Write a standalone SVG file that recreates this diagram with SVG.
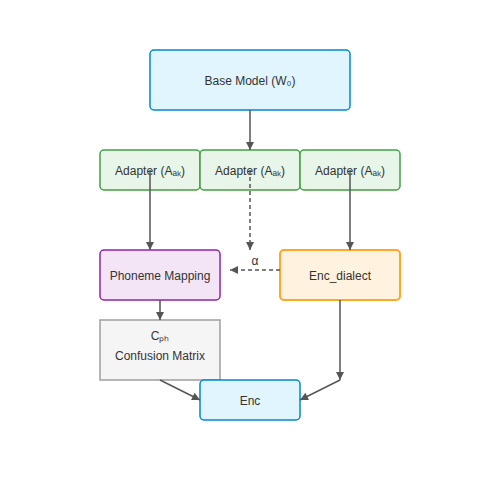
<svg xmlns="http://www.w3.org/2000/svg" width="500" height="500" viewBox="0 0 500 500">
<style>
text{font-family:"Liberation Sans",Arial,sans-serif;font-size:12px;fill:#333;text-anchor:middle;dominant-baseline:central}
.blue{fill:#e1f5fe;stroke:#0288d1;stroke-width:1.5}
.green{fill:#e8f5e9;stroke:#43a047;stroke-width:1.5}
.purple{fill:#f3e5f5;stroke:#8e24aa;stroke-width:1.5}
.orange{fill:#fff3e0;stroke:#ffa726;stroke-width:2}
.gray{fill:#f5f5f5;stroke:#9e9e9e;stroke-width:1.5}
.c{fill:none;stroke:#555;stroke-width:1.5}
.d{stroke-dasharray:4,3}
</style>
<defs>
<marker id="ah" markerWidth="10" markerHeight="10" refX="9" refY="5" orient="auto" markerUnits="userSpaceOnUse">
<path d="M1,1 L9,5 L1,9 Z" fill="#555"/>
</marker>
</defs>
<rect width="500" height="500" fill="#fff"/>
<g id="base"><rect class="blue" x="150" y="50" width="200" height="60" rx="4"/><text x="250" y="81">Base Model (W₀)</text></g>
<g id="adapter1"><rect class="green" x="100" y="150" width="100" height="40" rx="4"/><text x="150" y="171">Adapter (Aₐₖ)</text></g>
<g id="adapter2"><rect class="green" x="200" y="150" width="100" height="40" rx="4"/><text x="250" y="171">Adapter (Aₐₖ)</text></g>
<g id="adapter3"><rect class="green" x="300" y="150" width="100" height="40" rx="4"/><text x="350" y="171">Adapter (Aₐₖ)</text></g>
<g id="phoneme"><rect class="purple" x="100" y="250" width="120" height="50" rx="4"/><text x="160" y="276">Phoneme Mapping</text></g>
<g id="encdialect"><rect class="orange" x="280" y="250" width="120" height="50" rx="4"/><text x="340" y="276">Enc_dialect</text></g>
<g id="confusion"><rect class="gray" x="100" y="320" width="120" height="60"/><text x="160" y="336">Cₚₕ</text><text x="160" y="356">Confusion Matrix</text></g>
<g id="enc"><rect class="blue" x="200" y="380" width="100" height="40" rx="4"/><text x="250" y="401">Enc</text></g>
<g id="connectors">
<path class="c" d="M250,110 L250,150" marker-end="url(#ah)"/>
<path class="c" d="M150,170 L150,250" marker-end="url(#ah)"/>
<path class="c d" d="M250,170 L250,250" marker-end="url(#ah)"/>
<path class="c" d="M350,170 L350,250" marker-end="url(#ah)"/>
<path class="c d" d="M280,270 L230,270" marker-end="url(#ah)"/>
<text x="255" y="261">α</text>
<path class="c" d="M160,300 L160,320" marker-end="url(#ah)"/>
<path class="c" d="M160,380 L200,400" marker-end="url(#ah)"/>
<path class="c" d="M340,300 L340,380" marker-end="url(#ah)"/>
<path class="c" d="M340,380 L300,400" marker-end="url(#ah)"/>
</g>
</svg>
